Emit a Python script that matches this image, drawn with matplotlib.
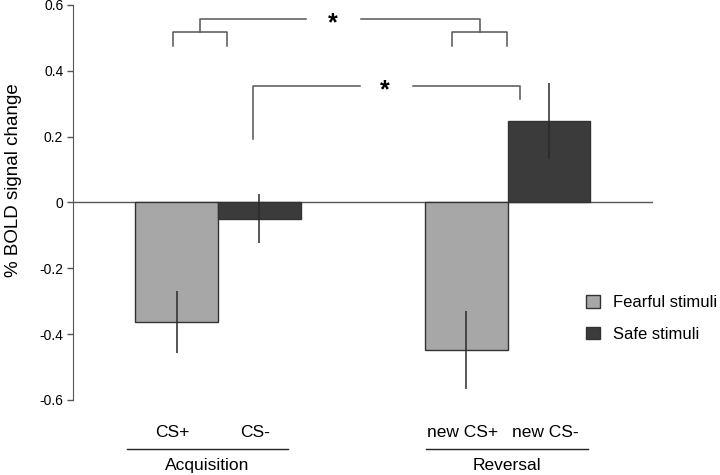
import matplotlib
matplotlib.use("Agg")
import matplotlib.pyplot as plt
from matplotlib.patches import Patch

plt.rcParams["font.family"] = ["Liberation Sans", "DejaVu Sans"]

# data
conditions = ["CS+", "CS-", "new CS+", "new CS-"]
stim_type = ["Fearful stimuli", "Safe stimuli", "Fearful stimuli", "Safe stimuli"]
values = [-0.363, -0.049, -0.448, 0.247]
errors = [0.094, 0.075, 0.119, 0.115]
positions = [1.0, 2.0, 4.5, 5.5]
phases = ["Acquisition", "Reversal"]
yticks = [-0.6, -0.4, -0.2, 0, 0.2, 0.4, 0.6]
ytick_labels = ["-0.6", "-0.4", "-0.2", "0", "0.2", "0.4", "0.6"]

FEAR = "#a7a7a7"
SAFE = "#3b3b3b"
EDGE = "#333333"
LINE = "#555555"
colors = {"Fearful stimuli": FEAR, "Safe stimuli": SAFE}

fig = plt.figure(figsize=(7.2, 4.75), dpi=100)
ax = fig.add_axes([0.1014, 0.158, 0.8056, 0.8316])

ax.bar(positions, values, width=1.0, color=[colors[s] for s in stim_type],
       edgecolor=EDGE, linewidth=1.0, zorder=2)
ax.errorbar(positions, values, yerr=errors, fmt="none", ecolor="#2a2a2a",
            elinewidth=1.1, capsize=0, zorder=3)
ax.axhline(0, color=LINE, lw=1.0, zorder=1)

ax.set_xlim(-0.252, 6.757)
ax.set_ylim(-0.6, 0.6)
ax.set_yticks(yticks)
ax.set_yticklabels(ytick_labels, fontsize=10)
ax.tick_params(axis="y", direction="out", length=4, width=1.0, color=LINE, pad=3)
ax.set_xticks([])
for side in ("top", "right", "bottom"):
    ax.spines[side].set_visible(False)
ax.spines["left"].set_color(LINE)
ax.set_ylabel("% BOLD signal change", fontsize=13.5)
ax.yaxis.set_label_coords(-0.088, 0.557)

# category labels and group lines under the axes
trans = ax.get_xaxis_transform()
for p, c in zip(positions, conditions):
    ax.text(p - 0.05, -0.0835, c, transform=trans, ha="center", va="center",
            fontsize=12.5)
group_spans = [(0.40, 2.35), (4.01, 5.97)]
for (x0, x1), name in zip(group_spans, phases):
    ax.plot([x0, x1], [-0.124, -0.124], color="#222222", lw=1.0,
            transform=trans, clip_on=False)
    ax.text((x0 + x1) / 2, -0.167, name, transform=trans, ha="center",
            va="center", fontsize=12.5)

# significance brackets
bk = dict(color=LINE, lw=1.1, clip_on=False)
ax.plot([0.956, 0.956, 1.609, 1.609], [0.476, 0.517, 0.517, 0.476], **bk)
ax.plot([4.33, 4.33, 4.99, 4.99], [0.476, 0.517, 0.517, 0.476], **bk)
ax.plot([1.283, 1.283, 2.56], [0.517, 0.558, 0.558], **bk)
ax.plot([3.23, 4.66, 4.66], [0.558, 0.558, 0.517], **bk)
ax.text(2.89, 0.545, "*", ha="center", va="center", fontsize=18,
        fontweight="bold")
ax.plot([1.923, 1.923, 3.22], [0.192, 0.354, 0.354], **bk)
ax.plot([3.86, 5.15, 5.15], [0.354, 0.354, 0.314], **bk)
ax.text(3.52, 0.342, "*", ha="center", va="center", fontsize=18,
        fontweight="bold")

handles = [Patch(facecolor=FEAR, edgecolor=EDGE, label="Fearful stimuli"),
           Patch(facecolor=SAFE, edgecolor=EDGE, label="Safe stimuli")]
fig.legend(handles=handles, loc="center left", bbox_to_anchor=(0.805, 0.33),
           frameon=False, fontsize=12, handlelength=0.8, handleheight=0.8,
           handletextpad=0.8, labelspacing=1.0, borderaxespad=0)

fig.savefig("out.png", dpi=100)
